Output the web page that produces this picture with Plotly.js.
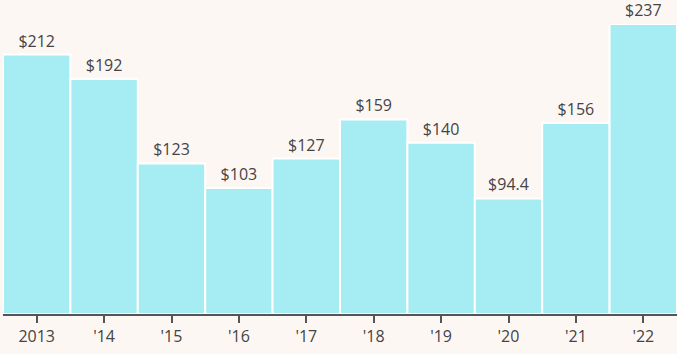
<!DOCTYPE html>
<html><head><meta charset="utf-8">
<script src="https://cdn.plot.ly/plotly-3.0.1.min.js"></script>
<style>html,body{margin:0;padding:0;background:#fdf7f4;}</style>
</head><body>
<div id="chart" style="width:677px;height:354px;"></div>
<script>
const categories = ["2013", "'14", "'15", "'16", "'17", "'18", "'19", "'20", "'21", "'22"];
const values = [212, 192, 123, 103, 127, 159, 140, 94.4, 156, 237];
const labels = ["$212", "$192", "$123", "$103", "$127", "$159", "$140", "$94.4", "$156", "$237"];

Plotly.newPlot('chart', [{
  type: 'bar',
  x: categories,
  y: values,
  text: labels,
  textposition: 'outside',
  constraintext: 'none',
  cliponaxis: false,
  textfont: {family: 'Open Sans', size: 16, color: '#444'},
  marker: {color: '#a6ecf3', line: {color: '#ffffff', width: 2}},
  hoverinfo: 'none'
}], {
  width: 677, height: 354,
  margin: {l: 3, r: 0, t: 24, b: 40},
  paper_bgcolor: '#fdf7f4',
  plot_bgcolor: '#fdf7f4',
  bargap: 0,
  showlegend: false,
  font: {family: 'Open Sans', size: 16, color: '#444'},
  xaxis: {type: 'category', showline: true, linecolor: '#555', linewidth: 2,
          ticks: 'outside', ticklen: 7, tickwidth: 2, tickcolor: '#555',
          showgrid: false, tickfont: {family: 'Open Sans', size: 16, color: '#444'}},
  yaxis: {range: [0, 237], visible: false, showgrid: false, zeroline: false, fixedrange: true}
}, {displayModeBar: false, staticPlot: true});
</script>
</body></html>
